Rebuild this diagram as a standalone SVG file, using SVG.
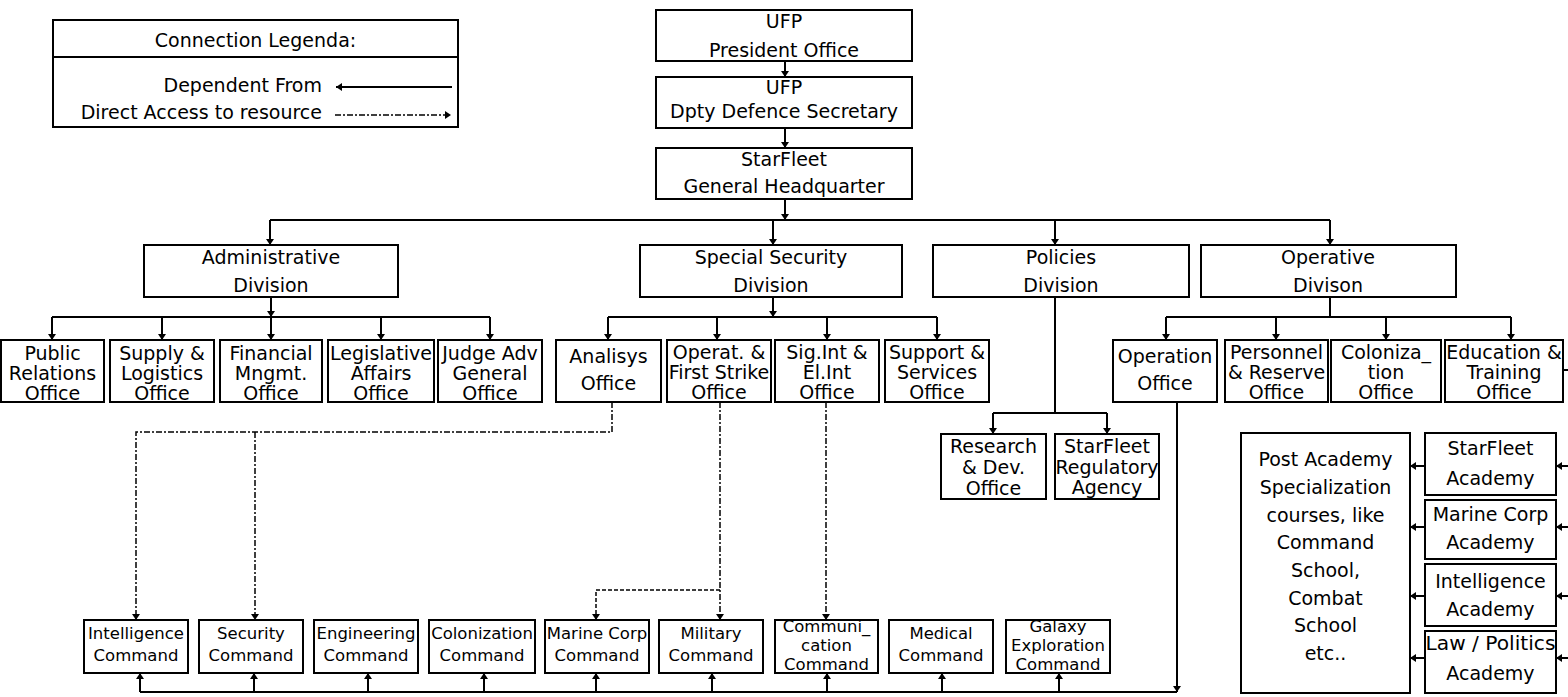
<svg xmlns="http://www.w3.org/2000/svg" width="1568" height="697" viewBox="0 0 1568 697">
<style>
.box{fill:#fff;stroke:#000;stroke-width:2}
text{font-family:"DejaVu Sans",sans-serif;font-size:19px;fill:#000;text-anchor:middle}
.sm{font-size:16.5px}
.r{text-anchor:end}
.ln{fill:none;stroke:#000;stroke-width:2}
.ds{fill:none;stroke:#000;stroke-width:1.5;stroke-dasharray:6,2,2,2}
.ds2{fill:none;stroke:#000;stroke-width:1.5;stroke-dasharray:4,2}
.ar{marker-end:url(#ah)}
</style>
<defs>
<marker id="ah" markerUnits="userSpaceOnUse" markerWidth="6" markerHeight="8" refX="6" refY="4" orient="auto"><path d="M0,0 L6,4 L0,8 z" fill="#000"/></marker>
</defs>
<rect width="1568" height="697" fill="#fff"/>

<g id="connectors">
<path class="ln ar" d="M785,61 V77"/>
<path class="ln ar" d="M785,128 V148"/>
<path class="ln ar" d="M785,199 V220"/>
<path class="ln" d="M270,220 H1330"/>
<path class="ln ar" d="M270,220 V245"/>
<path class="ln ar" d="M773,220 V245"/>
<path class="ln ar" d="M1055,220 V245"/>
<path class="ln ar" d="M1330,220 V245"/>
<path class="ln ar" d="M271,297 V317"/>
<path class="ln" d="M52,317 H490"/>
<path class="ln ar" d="M52,317 V340"/>
<path class="ln ar" d="M162,317 V340"/>
<path class="ln ar" d="M271,317 V340"/>
<path class="ln ar" d="M381,317 V340"/>
<path class="ln ar" d="M490,317 V340"/>
<path class="ln ar" d="M773,297 V317"/>
<path class="ln" d="M608,317 H937"/>
<path class="ln ar" d="M608,317 V340"/>
<path class="ln ar" d="M717,317 V340"/>
<path class="ln ar" d="M827,317 V340"/>
<path class="ln ar" d="M937,317 V340"/>
<path class="ln" d="M1055,297 V413 M993,413 H1107"/>
<path class="ln ar" d="M993,413 V434"/>
<path class="ln ar" d="M1107,413 V434"/>
<path class="ln" d="M1330,297 V317 M1166,317 H1511"/>
<path class="ln ar" d="M1166,317 V340"/>
<path class="ln ar" d="M1276,317 V340"/>
<path class="ln ar" d="M1386,317 V340"/>
<path class="ln ar" d="M1511,317 V340"/>
<path class="ln ar" d="M1177,402 V692"/>
<path class="ln" d="M140,692 H1177"/>
<path class="ln ar" d="M140,692 V673"/>
<path class="ln ar" d="M254,692 V673"/>
<path class="ln ar" d="M368,692 V673"/>
<path class="ln ar" d="M484,692 V673"/>
<path class="ln ar" d="M596,692 V673"/>
<path class="ln ar" d="M712,692 V673"/>
<path class="ln ar" d="M827,692 V673"/>
<path class="ln ar" d="M942,692 V673"/>
<path class="ln ar" d="M1059,692 V673"/>
<path class="ds ar" d="M612,402 V432 H136 V620"/>
<path class="ds ar" d="M255,432 V620"/>
<path class="ds ar" d="M720,402 V620"/>
<path class="ds2 ar" d="M720,590 H596 V620"/>
<path class="ds ar" d="M826,402 V620"/>
<path class="ln ar" d="M1425,466 H1410"/>
<path class="ln ar" d="M1425,527 H1410"/>
<path class="ln ar" d="M1425,596 H1410"/>
<path class="ln ar" d="M1425,658 H1410"/>
<path class="ln ar" d="M1568,466 H1556"/>
<path class="ln ar" d="M1568,527 H1556"/>
<path class="ln ar" d="M1568,596 H1556"/>
<path class="ln ar" d="M1568,658 H1556"/>
<path class="ln" d="M1563,370 H1568"/>
</g>

<g id="legend">
<rect class="box" x="53" y="20" width="405" height="107"/>
<path class="ln" d="M53,57 H458"/>
<text x="255.5" y="47">Connection Legenda:</text>
<text class="r" x="322" y="92">Dependent From</text>
<text class="r" x="322" y="119">Direct Access to resource</text>
<path class="ln ar" d="M452,87 H336"/>
<path class="ds ar" d="M335,115 H451"/>
</g>

<g id="president"><rect class="box" x="656" y="10" width="256" height="51"/><text x="784" y="28">UFP</text><text x="784" y="57">President Office</text></g>
<g id="deputy"><rect class="box" x="656" y="77" width="256" height="51"/><text x="784" y="94">UFP</text><text x="784" y="118">Dpty Defence Secretary</text></g>
<g id="hq"><rect class="box" x="656" y="148" width="256" height="51"/><text x="784" y="166">StarFleet</text><text x="784" y="193">General Headquarter</text></g>

<g id="admin"><rect class="box" x="144" y="245" width="254" height="52"/><text x="271" y="264">Administrative</text><text x="271" y="292">Division</text></g>
<g id="special"><rect class="box" x="640" y="245" width="262" height="52"/><text x="771" y="264">Special Security</text><text x="771" y="292">Division</text></g>
<g id="policies"><rect class="box" x="933" y="245" width="256" height="52"/><text x="1061" y="264">Policies</text><text x="1061" y="292">Division</text></g>
<g id="operative"><rect class="box" x="1201" y="245" width="255" height="52"/><text x="1328" y="264">Operative</text><text x="1328" y="292">Divison</text></g>

<g id="public"><rect class="box" x="1" y="340" width="103" height="62"/><text x="52.5" y="360">Public</text><text x="52.5" y="380">Relations</text><text x="52.5" y="400">Office</text></g>
<g id="supply"><rect class="box" x="110" y="340" width="104" height="62"/><text x="162" y="360">Supply &amp;</text><text x="162" y="380">Logistics</text><text x="162" y="400">Office</text></g>
<g id="financial"><rect class="box" x="220" y="340" width="102" height="62"/><text x="271" y="360">Financial</text><text x="271" y="380">Mngmt.</text><text x="271" y="400">Office</text></g>
<g id="legislative"><rect class="box" x="328" y="340" width="106" height="62"/><text x="381" y="360">Legislative</text><text x="381" y="380">Affairs</text><text x="381" y="400">Office</text></g>
<g id="judge"><rect class="box" x="438" y="340" width="104" height="62"/><text x="490" y="360">Judge Adv</text><text x="490" y="380">General</text><text x="490" y="400">Office</text></g>

<g id="analisys"><rect class="box" x="556" y="340" width="105" height="62"/><text x="608.5" y="363">Analisys</text><text x="608.5" y="390">Office</text></g>
<g id="operat"><rect class="box" x="667" y="340" width="104" height="62"/><text x="719" y="359">Operat. &amp;</text><text x="719" y="379">First Strike</text><text x="719" y="399">Office</text></g>
<g id="sigint"><rect class="box" x="775" y="340" width="104" height="62"/><text x="827" y="359">Sig.Int &amp;</text><text x="827" y="379">El.Int</text><text x="827" y="399">Office</text></g>
<g id="support"><rect class="box" x="885" y="340" width="104" height="62"/><text x="937" y="359">Support &amp;</text><text x="937" y="379">Services</text><text x="937" y="399">Office</text></g>

<g id="research"><rect class="box" x="941" y="434" width="105" height="65"/><text x="993.5" y="453">Research</text><text x="993.5" y="474">&amp; Dev.</text><text x="993.5" y="495">Office</text></g>
<g id="regulatory"><rect class="box" x="1055" y="434" width="104" height="65"/><text x="1107" y="453">StarFleet</text><text x="1107" y="474">Regulatory</text><text x="1107" y="494">Agency</text></g>

<g id="operation"><rect class="box" x="1113" y="340" width="104" height="62"/><text x="1165" y="363">Operation</text><text x="1165" y="390">Office</text></g>
<g id="personnel"><rect class="box" x="1225" y="340" width="103" height="62"/><text x="1276.5" y="359">Personnel</text><text x="1276.5" y="379">&amp; Reserve</text><text x="1276.5" y="399">Office</text></g>
<g id="colonization-office"><rect class="box" x="1331" y="340" width="110" height="62"/><text x="1386" y="359">Coloniza_</text><text x="1386" y="379">tion</text><text x="1386" y="399">Office</text></g>
<g id="education"><rect class="box" x="1445" y="340" width="118" height="62"/><text x="1504" y="359">Education &amp;</text><text x="1504" y="379">Training</text><text x="1504" y="399">Office</text></g>

<g id="post-academy"><rect class="box" x="1241" y="433" width="169" height="260"/>
<text x="1325.5" y="466">Post Academy</text><text x="1325.5" y="494">Specialization</text><text x="1325.5" y="522">courses, like</text><text x="1325.5" y="549">Command</text><text x="1325.5" y="577">School,</text><text x="1325.5" y="605">Combat</text><text x="1325.5" y="632">School</text><text x="1325.5" y="660">etc..</text></g>
<g id="starfleet-academy"><rect class="box" x="1425" y="433" width="131" height="62"/><text x="1490.5" y="455">StarFleet</text><text x="1490.5" y="485">Academy</text></g>
<g id="marine-academy"><rect class="box" x="1425" y="500" width="131" height="59"/><text x="1490.5" y="521">Marine Corp</text><text x="1490.5" y="549">Academy</text></g>
<g id="intelligence-academy"><rect class="box" x="1425" y="564" width="131" height="62"/><text x="1490.5" y="588">Intelligence</text><text x="1490.5" y="616">Academy</text></g>
<g id="law-academy"><rect class="box" x="1425" y="631" width="131" height="62"/><text x="1490.5" y="650" textLength="130" lengthAdjust="spacingAndGlyphs">Law / Politics</text><text x="1490.5" y="680">Academy</text></g>

<g id="intelligence-command"><rect class="box" x="84" y="620" width="104" height="53"/><text class="sm" x="136" y="639">Intelligence</text><text class="sm" x="136" y="661">Command</text></g>
<g id="security-command"><rect class="box" x="199" y="620" width="104" height="53"/><text class="sm" x="251" y="639">Security</text><text class="sm" x="251" y="661">Command</text></g>
<g id="engineering-command"><rect class="box" x="314" y="620" width="104" height="53"/><text class="sm" x="366" y="639">Engineering</text><text class="sm" x="366" y="661">Command</text></g>
<g id="colonization-command"><rect class="box" x="429" y="620" width="106" height="53"/><text class="sm" x="482" y="639">Colonization</text><text class="sm" x="482" y="661">Command</text></g>
<g id="marine-command"><rect class="box" x="545" y="620" width="104" height="53"/><text class="sm" x="597" y="639">Marine Corp</text><text class="sm" x="597" y="661">Command</text></g>
<g id="military-command"><rect class="box" x="659" y="620" width="104" height="53"/><text class="sm" x="711" y="639">Military</text><text class="sm" x="711" y="661">Command</text></g>
<g id="communication-command"><rect class="box" x="775" y="620" width="103" height="53"/><text class="sm" x="826.5" y="632">Communi_</text><text class="sm" x="826.5" y="651">cation</text><text class="sm" x="826.5" y="670">Command</text></g>
<g id="medical-command"><rect class="box" x="889" y="620" width="104" height="53"/><text class="sm" x="941" y="639">Medical</text><text class="sm" x="941" y="661">Command</text></g>
<g id="galaxy-command"><rect class="box" x="1006" y="620" width="104" height="53"/><text class="sm" x="1058" y="632">Galaxy</text><text class="sm" x="1058" y="651">Exploration</text><text class="sm" x="1058" y="670">Command</text></g>
</svg>
